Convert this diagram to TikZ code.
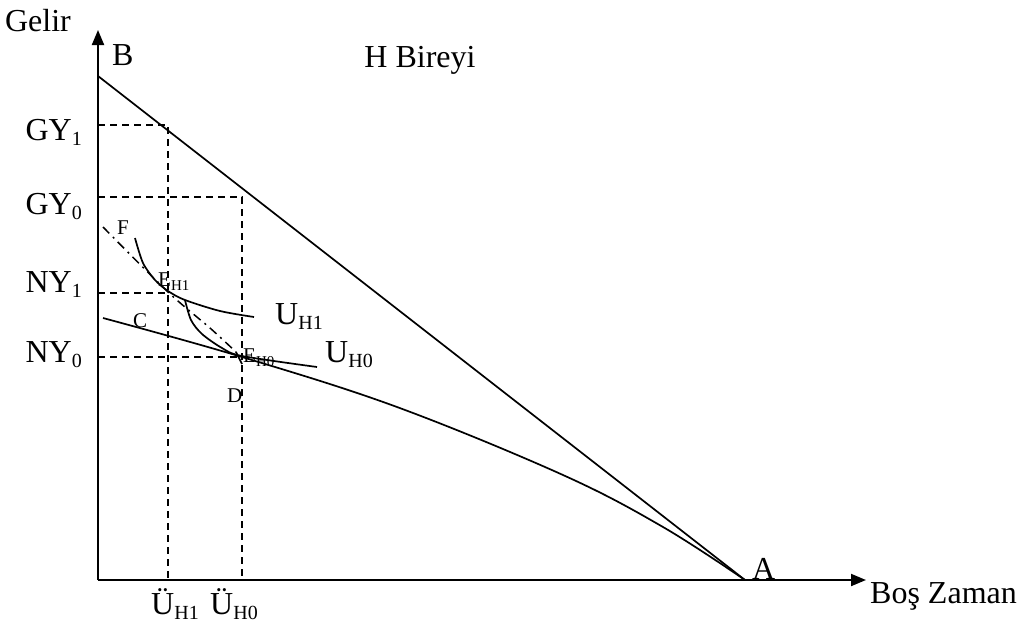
\documentclass[tikz,border=0pt]{standalone}
\usepackage{fontspec}
\setmainfont{Liberation Serif}
\usetikzlibrary{arrows.meta, positioning, calc}

\newcommand{\bigsub}[1]{\raisebox{-5pt}{\fontsize{20}{20}\selectfont #1}}
\newcommand{\smallsub}[1]{\raisebox{-4pt}{\fontsize{15}{15}\selectfont #1}}

\begin{document}
\begin{tikzpicture}[
    x=1pt, y=-1pt,
    % Line styles
    axis/.style={
        line width=2pt,
        -{Triangle[length=15pt, width=12pt]}
    },
    curve/.style={line width=1.7pt},
    guide/.style={line width=1.5pt, dash pattern=on 7pt off 5pt},
    dashdot/.style={line width=1.5pt, dash pattern=on 9pt off 5pt on 2pt off 5pt},
    % Label styles
    biglabel/.style={font=\fontsize{32}{36}\selectfont, inner sep=0pt},
    smalllabel/.style={font=\fontsize{21}{24}\selectfont, inner sep=0pt}
]

\useasboundingbox (0,0) rectangle (1029,625);

% ============================================
% AXES
% ============================================
\coordinate (O) at (98,580);
\coordinate (ytip) at (98,30);
\coordinate (xtip) at (866,580);
\draw[axis] (O) -- (ytip);
\draw[axis] (O) -- (xtip);

\node[biglabel, anchor=base] (gelir) at (38,31) {Gelir};
\node[biglabel, anchor=base west] (bos) at (870,603) {Boş Zaman};
\node[biglabel, anchor=base] (title) at (420,67) {H Bireyi};

% ============================================
% BUDGET LINES
% ============================================
\coordinate (A) at (745,580);
\coordinate (B) at (98,76);
\draw[curve] (B) -- (A);
\draw[curve] plot[smooth, tension=0.6] coordinates
    {(103,318) (242,357) (397,407) (563,475) (663,527) (745,580)};

\node[biglabel, anchor=base west] (Blbl) at (112,65) {B};
\node[biglabel, anchor=base west] (Albl) at (752,579) {A};
\node[smalllabel, anchor=base west] (Clbl) at (133,327) {C};

% ============================================
% DASHED GUIDES
% ============================================
\coordinate (EH1) at (168,293);
\coordinate (EH0) at (242,357);
\draw[guide] (98,125) -- (168,125) -- (168,580);
\draw[guide] (98,197) -- (242,197) -- (242,580);
\draw[guide] (98,293) -- (EH1);
\draw[guide] (98,357) -- (EH0);

\node[biglabel, anchor=base east] (GY1) at (82,140) {GY\bigsub{1}};
\node[biglabel, anchor=base east] (GY0) at (82,214) {GY\bigsub{0}};
\node[biglabel, anchor=base east] (NY1) at (82,292) {NY\bigsub{1}};
\node[biglabel, anchor=base east] (NY0) at (82,362) {NY\bigsub{0}};
\node[biglabel, anchor=base] (UH1) at (175,614) {Ü\bigsub{H1}};
\node[biglabel, anchor=base] (UH0) at (234,614) {Ü\bigsub{H0}};

% ============================================
% INDIFFERENCE CURVES
% ============================================
\draw[curve] plot[smooth] coordinates
    {(135,238) (143,263) (155,280) (168,291) (185,300) (220,311) (254,317)};
\draw[curve] plot[smooth] coordinates
    {(185,300) (191,320) (202,334) (222,348) (242,356) (317,367)};
\draw[dashdot] plot[smooth] coordinates
    {(103,227) (168,292) (210,328) (236,352)};
\draw[curve] (236,352) -- (242,364);

\node[biglabel, anchor=base west] (UH1lbl) at (275,324) {U\bigsub{H1}};
\node[biglabel, anchor=base west] (UH0lbl) at (325,362) {U\bigsub{H0}};
\node[smalllabel, anchor=base west] (EH1lbl) at (158,286) {E\smallsub{H1}};
\node[smalllabel, anchor=base west] (EH0lbl) at (243,362) {E\smallsub{H0}};
\node[smalllabel, anchor=base west] (Flbl) at (117,234) {F};
\node[smalllabel, anchor=base west] (Dlbl) at (227,402) {D};

\end{tikzpicture}
\end{document}
